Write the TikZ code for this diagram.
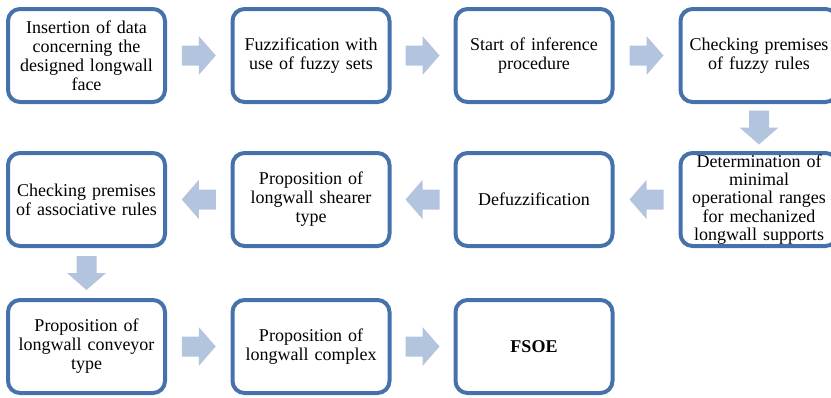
\documentclass[tikz,border=0pt]{standalone}
\usepackage{fontspec}
\setmainfont{Liberation Serif}
\usetikzlibrary{calc}
\definecolor{boxblue}{HTML}{4672AC}
\definecolor{arrowblue}{HTML}{B3C4DF}
\tikzset{
  stepbox/.style={draw=boxblue, line width=4pt, rounded corners=12pt,
    minimum width=157pt, minimum height=93pt, align=center, text width=152pt,
    inner sep=0pt, font=\fontsize{18}{19}\selectfont},
  arrowfill/.style={fill=arrowblue}
}
\newcommand{\blockarrow}[3]{%
  \fill[arrowfill, shift={($(#1.center)!0.5!(#2.center)$)}, rotate=#3]
    (-17pt,-10pt) -- (0pt,-10pt) -- (0pt,-19.5pt) -- (17pt,0pt) -- (0pt,19.5pt)
    -- (0pt,10pt) -- (-17pt,10pt) -- cycle;}
\begin{document}
\begin{tikzpicture}
\useasboundingbox (0,0) rectangle (831pt,-397pt);
\clip (0,0) rectangle (831pt,-397pt);
% row 1
\node[stepbox] (a1) at (86.5pt,-55.5pt) {Insertion of data\\concerning the\\designed longwall\\face};
\node[stepbox] (a2) at (311pt,-55.5pt) {Fuzzification with\\use of fuzzy sets};
\node[stepbox] (a3) at (534pt,-55.5pt) {Start of inference\\procedure};
\node[stepbox] (a4) at (759pt,-55.5pt) {Checking premises\\of fuzzy rules};
% row 2
\node[stepbox] (b1) at (86.5pt,-199.5pt) {Checking premises\\of associative rules};
\node[stepbox] (b2) at (311pt,-199.5pt) {Proposition of\\longwall shearer\\type};
\node[stepbox] (b3) at (534pt,-199.5pt) {Defuzzification};
\node[stepbox, font=\fontsize{18}{18.3}\selectfont] (b4) at (759pt,-199.5pt) {Determination of\\minimal\\operational ranges\\for mechanized\\longwall supports};
% row 3
\node[stepbox] (c1) at (86.5pt,-346.5pt) {Proposition of\\longwall conveyor\\type};
\node[stepbox] (c2) at (311pt,-346.5pt) {Proposition of\\longwall complex};
\node[stepbox] (c3) at (534pt,-346.5pt) {\textbf{FSOE}};
% arrows
\blockarrow{a1}{a2}{0}
\blockarrow{a2}{a3}{0}
\blockarrow{a3}{a4}{0}
\blockarrow{a4}{b4}{-90}
\blockarrow{b4}{b3}{180}
\blockarrow{b3}{b2}{180}
\blockarrow{b2}{b1}{180}
\blockarrow{b1}{c1}{-90}
\blockarrow{c1}{c2}{0}
\blockarrow{c2}{c3}{0}
\end{tikzpicture}
\end{document}
